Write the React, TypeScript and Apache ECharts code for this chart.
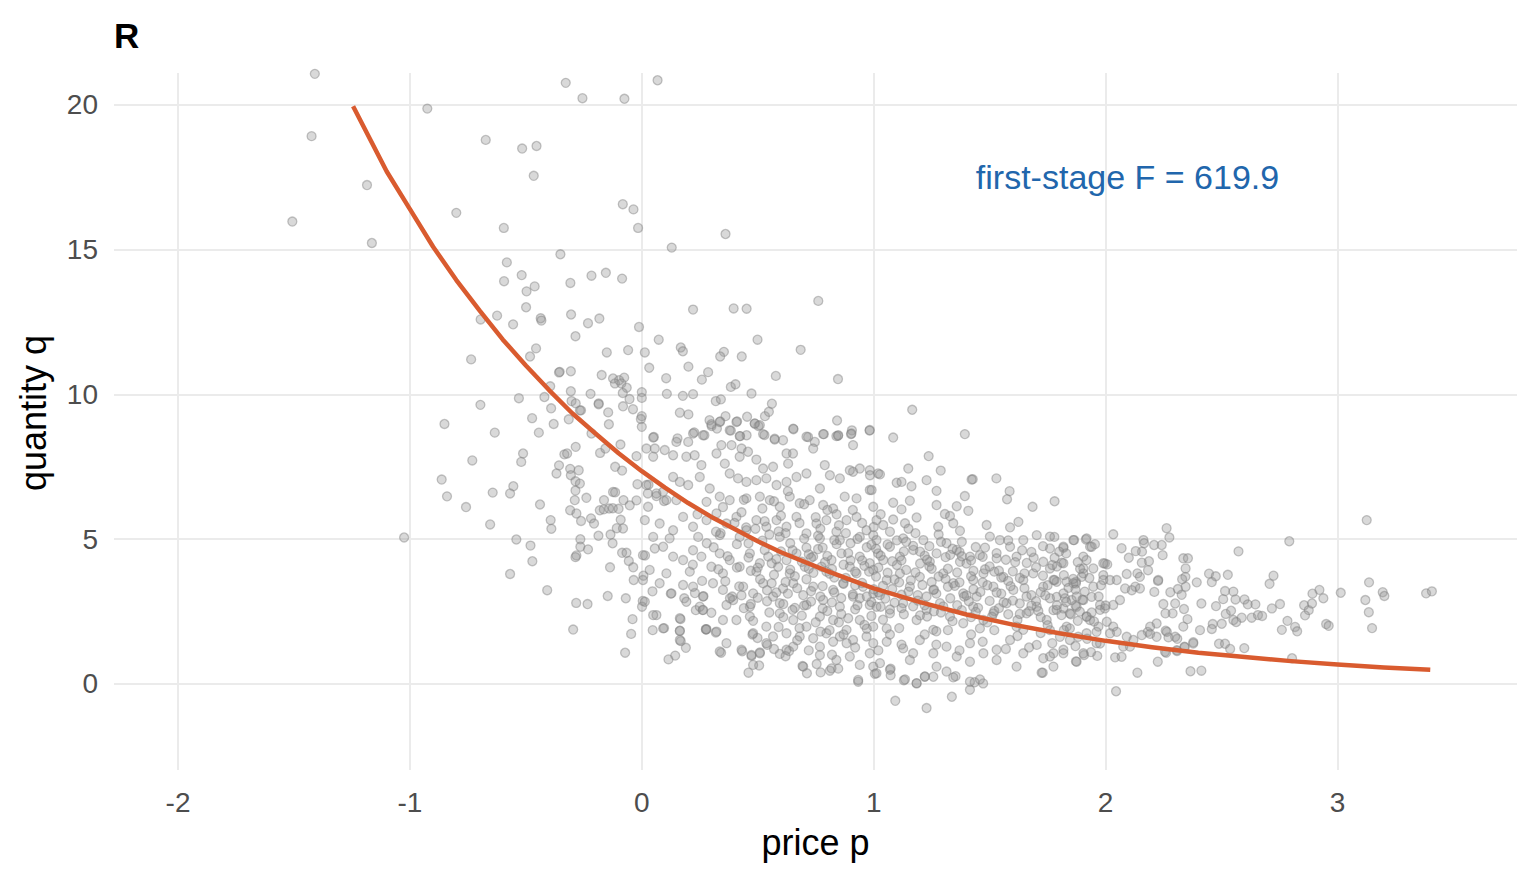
import React, { useEffect, useRef } from "react";
import * as echarts from "echarts";

type Pt = [number, number];

const xTicks = [-2, -1, 0, 1, 2, 3];
const yTicks = [0, 5, 10, 15, 20];

const titleText = "R";
const annotationText = "first-stage F = 619.9";
const xTitle = "price p";
const yTitle = "quantity q";

const pointsUpper: Pt[] = [
  [-1.41, 21.07], [-0.328, 20.76], [-0.256, 20.23], [-0.925, 19.87], [-1.424, 18.92], [-0.673, 18.79], [-0.516, 18.49], [-0.454, 18.58],
  [-0.466, 17.55], [-1.185, 17.23], [-0.8, 16.27], [-1.507, 15.97], [-0.595, 15.75], [-1.164, 15.23], [-0.351, 14.84], [-0.582, 14.56],
  [-0.518, 14.12], [-0.594, 13.91], [-0.462, 13.73], [-0.497, 13.56], [-0.308, 13.85], [-0.217, 14.1],
  [-0.075, 20.21], [0.068, 20.85], [-0.082, 16.57], [-0.036, 16.39], [-0.016, 15.75], [0.361, 15.54], [0.129, 15.07], [-0.155, 14.2],
  [-0.085, 14.0], [-0.305, 12.76], [-0.232, 12.46], [-0.183, 12.62], [-0.286, 12.01], [-0.012, 12.33], [0.221, 12.93], [0.396, 12.97],
  [0.452, 12.96], [0.761, 13.23], [0.073, 11.89], [0.499, 11.89], [0.685, 11.54], [-0.151, 11.45], [-0.059, 11.53], [0.013, 11.45],
  [0.168, 11.62], [0.177, 11.49], [0.354, 11.47], [0.338, 11.31], [0.431, 11.31], [0.032, 10.92], [0.201, 10.96], [0.286, 10.77],
  [0.259, 10.51], [0.105, 10.56], [0.578, 10.64], [0.846, 10.53], [-0.354, 10.78], [-0.306, 10.8], [-0.173, 10.67], [-0.124, 10.55],
  [-0.098, 10.49], [-0.076, 10.58], [-0.116, 10.38], [-0.088, 10.38], [-0.065, 10.23], [-0.082, 10.05], [-0.306, 10.11], [-0.221, 10.02],
  [0.0, 10.08], [0.0, 9.88], [0.108, 10.02], [0.177, 9.95], [0.221, 10.01], [0.473, 10.03], [-0.186, 9.69], [-0.081, 9.59],
  [-0.053, 9.84], [-0.038, 9.49], [0.0, 9.25], [-0.004, 9.15], [0.0, 8.88], [-0.145, 9.38], [-0.142, 8.97], [-0.262, 9.45],
  [-0.315, 9.14], [0.164, 9.37], [0.201, 9.31], [0.319, 9.77], [0.341, 9.83], [0.384, 10.26], [0.404, 10.35], [0.531, 9.25],
  [0.548, 9.4], [0.561, 9.68], [0.454, 9.23], [0.487, 9.0], [0.503, 8.91], [0.361, 9.25], [0.338, 9.07], [0.292, 9.11],
  [0.301, 8.91], [0.324, 8.82], [0.411, 9.07], [0.654, 8.8], [0.842, 9.1], [1.166, 9.47], [0.982, 8.75], [0.906, 8.76],
  [0.902, 8.63], [0.846, 8.57], [0.785, 8.63], [0.717, 8.53], [1.084, 8.51], [0.384, 8.75], [0.424, 8.56], [0.226, 8.69],
  [0.27, 8.59], [0.529, 8.6], [0.452, 8.59], [0.573, 8.47], [0.052, 8.53], [0.154, 8.48], [-0.217, 8.65],
];

const pointsLeft: Pt[] = [
  [-1.025, 5.06], [-0.851, 8.98], [-0.863, 7.06], [-0.84, 6.48], [-0.758, 6.11], [-0.731, 7.72], [-0.736, 11.21], [-0.696, 9.64],
  [-0.695, 12.59], [-0.624, 12.72], [-0.634, 8.68], [-0.654, 5.51], [-0.643, 6.61], [-0.499, 13.01], [-0.555, 12.42], [-0.436, 12.63],
  [-0.433, 12.55], [-0.456, 11.59], [-0.482, 11.31], [-0.53, 9.87], [-0.42, 9.91], [-0.391, 9.52], [-0.395, 10.28], [-0.473, 9.18],
  [-0.444, 8.68], [-0.38, 8.98], [-0.357, 10.76], [-0.303, 9.77], [-0.285, 9.69], [-0.267, 9.45], [-0.186, 9.66],
  [-0.512, 7.96], [-0.52, 7.67], [-0.554, 6.83], [-0.568, 6.58], [-0.439, 6.2], [-0.393, 5.66], [-0.39, 5.36], [-0.541, 4.99],
  [-0.48, 4.78], [-0.472, 4.24], [-0.568, 3.8], [-0.408, 3.24], [-0.283, 2.8], [-0.234, 2.76], [-0.296, 1.88], [-0.334, 7.93],
  [-0.322, 7.96], [-0.285, 8.19], [-0.357, 7.55], [-0.368, 7.27], [-0.309, 7.43], [-0.272, 7.38], [-0.306, 7.21], [-0.286, 7.0],
  [-0.267, 6.92], [-0.286, 6.68], [-0.289, 6.35], [-0.239, 6.43], [-0.309, 6.0], [-0.282, 5.89], [-0.262, 5.63], [-0.265, 5.0],
  [-0.265, 4.74], [-0.232, 4.65], [-0.282, 4.44], [-0.286, 4.38], [-0.219, 5.72], [-0.206, 5.54], [-0.181, 6.0], [-0.164, 6.03],
  [-0.141, 6.06], [-0.125, 6.07], [-0.1, 6.05], [-0.187, 5.12], [-0.135, 5.16], [-0.126, 4.86], [-0.091, 5.67], [-0.108, 5.38],
  [-0.081, 5.37], [-0.163, 6.35], [-0.124, 6.63], [-0.115, 6.62], [-0.079, 6.35], [-0.023, 6.34], [-0.052, 6.17], [-0.18, 7.98],
  [-0.157, 8.13], [-0.092, 8.27], [-0.115, 7.5], [-0.085, 7.37], [-0.023, 7.87], [-0.019, 6.9], [0.026, 6.58], [0.029, 6.88],
  [0.063, 6.49], [0.096, 6.32], [0.092, 6.64], [-0.085, 4.53], [-0.066, 4.53], [-0.056, 4.25], [-0.037, 4.03], [-0.035, 3.59],
  [-0.069, 2.96], [-0.137, 4.03], [-0.147, 3.04], [-0.04, 2.24], [-0.046, 1.73], [-0.072, 1.08], [0.004, 2.87], [0.001, 2.67],
  [0.014, 4.44], [0.007, 3.74], [0.046, 3.2], [0.063, 2.38], [0.047, 1.86], [0.096, 1.93], [0.125, 3.12], [0.115, 0.85],
  [0.144, 0.98], [0.164, 1.83], [0.168, 1.48], [0.19, 1.25], [0.167, 2.24], [0.183, 2.96], [0.229, 3.14], [0.266, 3.03],
  [0.233, 2.55], [0.263, 2.55], [0.277, 1.88], [0.319, 1.78], [0.342, 1.08], [0.433, 1.13], [0.473, 0.97], [0.509, 1.09],
  [0.46, 0.39], [0.506, 0.64], [0.541, 1.35], [0.477, 1.71], [0.499, 1.59],
];

const pointsLow: Pt[] = [
  [1.093, -0.58], [1.228, -0.83], [1.337, -0.44], [1.415, -0.2], [1.435, 0.06], [1.472, 0.02], [0.933, 0.08], [1.13, 0.13],
  [1.185, 0.02], [1.22, 0.25], [1.257, 0.25], [1.353, 0.27], [1.729, 0.39], [0.712, 0.37], [0.771, 0.4], [0.811, 0.46],
  [0.847, 0.53], [1.005, 0.35], [1.073, 0.53], [1.073, 0.3], [0.595, 1.04], [0.635, 1.14], [0.693, 0.62], [0.754, 0.69],
  [0.276, 1.89], [1.393, 8.63], [1.237, 7.87], [1.289, 7.37], [1.427, 7.07], [1.529, 7.1], [1.586, 6.66], [1.575, 6.38],
  [1.78, 6.31], [1.685, 6.12],
];

const pointsRight: Pt[] = [
  [3.126, 5.66], [2.792, 4.93], [2.573, 4.58], [2.263, 5.38], [2.275, 5.06], [2.033, 5.17], [3.014, 3.15], [3.136, 3.51],
  [3.12, 2.9], [3.135, 2.48], [3.149, 1.93], [3.195, 3.17], [3.202, 3.04], [3.382, 3.13], [3.407, 3.2], [2.922, 3.25],
  [2.892, 3.12], [2.939, 2.96], [2.856, 2.72], [2.876, 2.55], [2.86, 2.37], [2.89, 2.78], [2.951, 2.07], [2.962, 2.01],
  [2.804, 0.89], [2.724, 3.74], [2.707, 3.46], [2.752, 2.76], [2.717, 2.61], [2.784, 2.18], [2.817, 1.97], [2.826, 1.82],
  [2.76, 1.87], [2.527, 3.77], [2.446, 3.81], [2.475, 3.72], [2.458, 3.52], [2.393, 3.51], [2.413, 2.78], [2.515, 3.21],
  [2.551, 3.19], [2.56, 2.92], [2.507, 2.93], [2.599, 2.92], [2.613, 2.75], [2.646, 2.75], [2.63, 2.29], [2.587, 2.29],
  [2.551, 2.21], [2.563, 2.14], [2.657, 2.38], [2.675, 2.35], [2.518, 2.42], [2.541, 2.53], [2.501, 2.08], [2.462, 2.07],
  [2.458, 1.9], [2.476, 2.69], [2.489, 1.39], [2.515, 1.39], [2.537, 1.21], [2.598, 1.24], [2.366, 0.44], [2.413, 0.46],
  [2.378, 1.44], [2.407, 1.86], [2.045, -0.25], [2.137, 0.39], [2.225, 0.77], [2.261, 1.08], [2.308, 1.14], [2.34, 1.29],
  [2.041, 0.92], [2.069, 0.94], [1.872, 0.78], [1.907, 1.0], [1.964, 0.97], [1.937, 1.1], [2.353, 2.24], [2.338, 2.59],
  [2.289, 2.44], [2.258, 2.44], [2.3, 2.78], [2.279, 3.17], [2.312, 3.28], [2.328, 3.08], [2.345, 3.36], [2.344, 3.7],
  [2.345, 3.99], [2.335, 4.34], [2.355, 4.34], [2.33, 3.62], [2.246, 4.45], [2.242, 4.8], [2.209, 4.8], [2.227, 3.59],
  [2.21, 3.18], [2.163, 4.97], [2.166, 4.86], [2.157, 4.57], [2.187, 4.24], [2.156, 4.19], [2.13, 4.59], [2.1, 4.36],
  [2.069, 4.69], [2.091, 3.8], [2.137, 3.82], [2.148, 3.7], [2.128, 3.36], [2.113, 3.24], [2.148, 3.3], [2.183, 3.93],
  [2.226, 3.56], [2.249, 2.76], [2.22, 2.09], [2.182, 1.8], [2.192, 1.73], [2.259, 1.84], [2.271, 1.61], [2.309, 1.56],
  [2.341, 1.27], [1.864, 4.97], [1.915, 4.99], [1.933, 4.74], [1.954, 4.83], [1.818, 4.7], [1.811, 4.19], [1.779, 5.08],
  [1.76, 4.68], [1.918, 4.28], [1.904, 3.99], [1.947, 3.99], [1.997, 4.16], [2.007, 4.13], [1.99, 3.76], [1.897, 3.7],
  [1.872, 3.53], [1.872, 3.47], [1.832, 3.53], [1.789, 3.53], [1.76, 3.99], [1.789, 3.01], [1.825, 2.96], [1.854, 2.9],
  [1.904, 2.9], [1.94, 3.01], [1.976, 2.73], [1.997, 2.61], [2.033, 2.73], [2.062, 2.9], [2.084, 3.3], [2.048, 3.59],
  [2.019, 3.59], [1.775, 2.55], [1.818, 2.61], [1.846, 2.44], [1.889, 2.5], [1.918, 2.32], [1.933, 2.21], [1.969, 1.98],
  [2.005, 2.15], [2.033, 1.98], [2.048, 1.8], [2.019, 1.75], [2.091, 1.63], [2.12, 1.52], [2.156, 1.69], [2.192, 1.98],
  [2.22, 1.63], [2.264, 1.8], [2.3, 1.63], [2.335, 1.98], [2.256, 1.11], [2.307, 1.17], [2.378, 1.4], [2.076, 1.29],
  [2.105, 1.29], [1.818, 1.06], [1.775, 1.06], [1.76, 1.86], [1.803, 1.63], [1.846, 1.52], [1.882, 1.63], [1.918, 1.75],
  [1.961, 1.8], [1.976, 1.4],
];

const pointsCoreA: Pt[] = [
  [0.3, 8.97], [0.336, 9.05], [0.408, 9.05], [0.487, 8.99], [0.509, 8.94], [0.653, 8.82], [0.782, 8.63], [0.839, 8.56],
  [0.904, 8.65], [0.983, 8.77], [0.049, 8.51], [0.221, 8.65], [0.264, 8.59], [0.379, 8.76], [0.422, 8.56], [0.523, 8.63],
  [0.573, 8.44], [0.609, 8.42], [0.71, 8.54], [0.746, 8.36], [0.847, 8.59],
  [0.02, 8.13], [0.056, 8.13], [0.099, 8.08], [0.149, 8.36], [0.2, 8.36], [0.135, 7.9], [0.192, 7.85], [0.228, 7.9],
  [0.322, 7.96], [0.343, 8.25], [0.387, 8.25], [0.43, 8.13], [0.458, 8.02], [0.494, 7.75], [0.624, 7.96], [0.652, 7.96],
  [0.739, 8.13], [0.911, 8.25], [0.049, 7.85], [0.257, 7.56], [0.358, 7.61], [0.422, 7.85], [0.523, 7.44], [0.566, 7.5],
  [0.631, 7.61], [0.789, 7.56], [0.811, 7.21], [0.911, 7.33], [0.94, 7.44], [0.983, 7.38], [1.019, 7.27],
  [0.02, 6.87], [0.063, 6.58], [0.106, 6.35], [0.135, 7.15], [0.164, 6.98], [0.2, 6.87], [0.25, 7.15], [0.293, 6.75],
  [0.336, 6.47], [0.379, 7.27], [0.415, 7.1], [0.451, 6.98], [0.494, 7.04], [0.537, 7.1], [0.581, 6.87], [0.624, 6.98],
  [0.667, 7.15], [0.71, 7.27], [0.768, 6.75], [0.027, 6.12], [0.149, 6.35], [0.279, 6.29], [0.379, 6.35], [0.451, 6.41],
  [0.509, 6.47], [0.552, 6.35], [0.595, 6.12], [0.638, 6.47], [0.681, 6.24], [0.724, 6.35], [0.782, 6.18], [0.825, 6.06],
  [0.875, 6.47], [0.926, 6.41], [0.983, 6.7], [0.998, 6.12], [0.854, 7.1], [0.897, 7.38],
  [0.013, 5.66], [0.077, 5.54], [0.135, 5.31], [0.178, 5.77], [0.221, 5.43], [0.279, 5.66], [0.322, 5.89], [0.365, 5.54],
  [0.408, 5.77], [0.451, 5.31], [0.494, 5.66], [0.537, 5.43], [0.581, 5.66], [0.624, 5.43], [0.667, 5.77], [0.71, 5.2],
  [0.753, 5.54], [0.796, 5.66], [0.839, 5.26], [0.883, 5.66], [0.926, 5.77], [0.969, 5.31], [1.012, 5.66], [0.049, 5.08],
  [0.12, 5.03], [0.243, 5.08], [0.336, 5.14], [0.422, 5.08], [0.595, 5.08], [0.768, 5.03], [0.854, 4.97], [0.94, 5.08],
  [0.998, 5.14],
  [0.005, 4.45], [0.056, 4.68], [0.092, 4.74], [0.135, 4.4], [0.178, 4.28], [0.221, 4.62], [0.257, 4.4], [0.3, 4.05],
  [0.336, 4.51], [0.379, 4.28], [0.422, 4.05], [0.466, 4.51], [0.509, 4.17], [0.545, 4.4], [0.588, 4.05], [0.624, 4.28],
  [0.667, 4.51], [0.703, 4.05], [0.739, 4.4], [0.775, 4.05], [0.818, 4.28], [0.861, 4.51], [0.897, 4.05], [0.94, 4.4],
  [0.983, 4.17], [1.019, 4.51], [0.034, 3.94], [0.106, 3.82], [0.207, 3.88], [0.35, 3.82], [0.494, 3.88], [0.638, 3.82],
  [0.796, 3.88], [0.926, 3.82],
  [0.005, 3.59], [0.077, 3.48], [0.128, 3.13], [0.178, 3.42], [0.221, 3.36], [0.264, 3.02], [0.307, 3.48], [0.35, 3.25],
  [0.394, 2.9], [0.437, 3.36], [0.48, 3.13], [0.523, 3.48], [0.566, 3.02], [0.609, 3.3], [0.653, 3.48], [0.696, 3.07],
  [0.739, 3.36], [0.782, 2.9], [0.825, 3.25], [0.868, 3.48], [0.911, 3.02], [0.954, 3.36], [0.998, 3.13], [0.013, 2.84],
  [0.192, 2.84], [0.25, 2.67], [0.365, 2.73], [0.466, 2.67], [0.595, 2.79], [0.71, 2.73], [0.854, 2.67], [0.983, 2.73],
  [0.049, 2.38], [0.164, 2.27], [0.264, 2.56], [0.35, 2.21], [0.408, 2.21], [0.466, 2.33], [0.537, 1.98], [0.595, 2.44],
  [0.653, 2.21], [0.71, 1.98], [0.768, 2.33], [0.825, 2.21], [0.883, 1.87], [0.94, 2.21], [0.998, 1.98], [0.092, 1.92],
  [0.164, 1.84], [0.279, 1.89], [0.322, 1.81], [0.48, 1.75], [0.566, 1.64], [0.624, 1.75], [0.681, 1.64], [0.739, 1.58],
  [0.796, 1.75], [0.854, 1.64], [0.911, 1.52], [0.969, 1.64], [0.164, 1.52], [0.365, 1.41], [0.537, 1.41], [0.653, 1.29],
  [0.768, 1.29], [0.825, 1.46], [0.883, 1.41],
  [0.336, 1.12], [0.43, 1.18], [0.473, 1.0], [0.509, 1.06], [0.624, 1.18], [0.696, 0.6], [0.768, 1.0], [0.839, 0.83],
  [0.897, 0.95], [0.94, 0.66], [0.998, 0.6], [0.48, 0.66], [0.818, 0.54], [0.933, 0.14], [0.983, 1.06],
];

const pointsCoreB: Pt[] = [
  [1.149, 7.44], [1.027, 7.24], [1.099, 6.95], [1.12, 6.98], [1.163, 6.83], [1.228, 7.04], [1.422, 7.06], [1.271, 6.67],
  [1.393, 6.49], [1.156, 6.33], [1.084, 6.26], [1.12, 6.03], [1.271, 6.18], [1.358, 6.14], [1.408, 5.98], [1.307, 5.87],
  [1.329, 5.8], [1.185, 5.75], [1.084, 5.68], [1.041, 5.49], [1.135, 5.55], [1.278, 5.43], [1.343, 5.55], [1.372, 5.29],
  [1.487, 5.49], [1.588, 5.41], [1.624, 5.6], [0.984, 7.21], [0.991, 6.7],
  [1.012, 4.97], [1.07, 4.74], [1.127, 5.03], [1.171, 4.63], [1.214, 4.97], [1.271, 4.51], [1.314, 4.86], [1.358, 4.63],
  [1.415, 4.4], [1.458, 4.45], [1.501, 5.09], [1.544, 4.97], [1.588, 4.74], [1.645, 4.97], [1.703, 5.14], [1.76, 5.09],
  [1.818, 4.74], [1.861, 4.97], [1.918, 5.03], [1.94, 4.74], [1.99, 4.17], [1.041, 4.28], [1.113, 4.4], [1.242, 4.22],
  [1.372, 4.22], [1.53, 4.34], [1.616, 4.4], [1.731, 4.22], [1.818, 4.17], [1.904, 4.4],
  [0.998, 3.94], [1.056, 3.59], [1.113, 3.82], [1.156, 3.36], [1.199, 3.7], [1.257, 3.25], [1.3, 3.82], [1.343, 3.48],
  [1.386, 3.13], [1.429, 3.59], [1.473, 3.82], [1.516, 3.36], [1.559, 3.7], [1.602, 3.25], [1.645, 3.59], [1.688, 3.82],
  [1.731, 3.36], [1.775, 3.59], [1.818, 3.13], [1.861, 3.48], [1.904, 3.82], [1.947, 3.36], [1.99, 3.59], [1.027, 3.07],
  [1.228, 3.02], [1.444, 3.02], [1.659, 3.02], [1.875, 3.02],
  [1.012, 2.67], [1.07, 2.44], [1.127, 2.79], [1.185, 2.21], [1.228, 2.56], [1.286, 2.79], [1.329, 2.33], [1.386, 2.1],
  [1.429, 2.67], [1.473, 2.21], [1.516, 2.44], [1.573, 2.79], [1.616, 1.98], [1.659, 2.44], [1.703, 2.67], [1.746, 2.21],
  [1.789, 2.56], [1.832, 1.98], [1.875, 2.67], [1.918, 2.33], [1.976, 2.56], [1.056, 1.92], [1.257, 1.87], [1.458, 1.92],
  [1.645, 1.87], [1.846, 1.92],
  [0.998, 1.41], [1.056, 1.46], [1.127, 1.23], [1.199, 1.52], [1.257, 1.06], [1.314, 1.29], [1.358, 0.95], [1.415, 1.41],
  [1.473, 1.06], [1.53, 1.18], [1.588, 1.52], [1.645, 1.06], [1.703, 1.35], [1.76, 0.95], [1.818, 1.18], [1.904, 1.06],
  [1.961, 1.41], [1.027, 0.72], [1.156, 0.83], [1.271, 0.6], [1.415, 0.77], [1.53, 0.83], [1.616, 0.6], [1.731, 0.89],
  [1.775, 0.6], [1.875, 0.77], [1.012, 0.37], [1.07, 0.49], [1.135, 0.16], [1.221, 0.26], [1.314, 0.43], [1.343, 0.23],
  [1.415, 0.08], [1.458, 0.16], [1.724, 0.39], [1.185, 0.03],
];

const pointsCoreFill: Pt[] = [
  [0.31, 4.72], [0.36, 3.55], [0.41, 4.83], [0.44, 2.62], [0.47, 3.91], [0.52, 4.95], [0.55, 2.47], [0.57, 3.77],
  [0.6, 4.58], [0.63, 3.12], [0.66, 2.63], [0.69, 4.22], [0.71, 3.62], [0.73, 2.85], [0.76, 4.66], [0.78, 3.38],
  [0.8, 2.52], [0.82, 3.97], [0.84, 4.83], [0.86, 2.97], [0.88, 3.66], [0.9, 4.27], [0.92, 2.58], [0.95, 3.49],
  [0.97, 4.72], [0.99, 2.83], [1.01, 3.71], [1.03, 4.43], [1.05, 2.95], [1.08, 3.28], [1.1, 4.11], [1.12, 2.62],
  [1.14, 3.94], [1.17, 4.77], [1.19, 2.88], [1.21, 3.42], [1.24, 4.06], [1.26, 2.51], [1.28, 3.71], [1.31, 4.38],
  [1.33, 2.96], [1.36, 3.85], [1.38, 2.55], [1.4, 4.16], [1.43, 3.27], [1.45, 2.63], [1.48, 3.96], [1.5, 2.87],
  [1.53, 4.52], [1.55, 3.12], [1.58, 2.41], [1.6, 3.89], [1.63, 2.78], [1.66, 4.18], [1.68, 3.07], [1.71, 2.52],
  [1.73, 3.74], [1.76, 2.96], [1.79, 4.06], [1.81, 2.38], [1.84, 3.32], [1.87, 2.71], [1.89, 3.98],
  [0.34, 5.21], [0.39, 3.02], [0.43, 5.93], [0.46, 4.37], [0.5, 2.98], [0.53, 5.62], [0.56, 4.17], [0.59, 1.97],
  [0.62, 5.21], [0.65, 4.62], [0.68, 1.93], [0.7, 5.02], [0.72, 3.98], [0.75, 2.13], [0.77, 5.36], [0.79, 4.21],
  [0.81, 1.86], [0.83, 3.16], [0.85, 5.48], [0.87, 4.12], [0.89, 2.27], [0.91, 3.09], [0.93, 5.01], [0.96, 2.04],
  [0.98, 3.88], [1.0, 5.42], [1.02, 3.17], [1.04, 2.22], [1.06, 4.82], [1.09, 3.61], [1.11, 1.93], [1.13, 4.58],
  [1.15, 3.19], [1.18, 5.21], [1.2, 2.37], [1.22, 4.43], [1.25, 3.52], [1.27, 1.82], [1.29, 4.91], [1.32, 3.36],
  [1.34, 2.17], [1.37, 4.56], [1.39, 3.02], [1.42, 2.31], [1.44, 4.73], [1.47, 3.51], [1.49, 2.13], [1.52, 3.88],
  [1.54, 2.62], [1.57, 4.29], [1.59, 3.38], [1.62, 2.21], [1.64, 4.62], [1.67, 2.51], [1.7, 4.03], [1.72, 3.17],
  [1.75, 2.03], [1.78, 3.59], [1.8, 4.57], [1.83, 2.83], [1.86, 3.63], [1.88, 2.18], [1.91, 3.19], [1.94, 2.47],
  [1.97, 3.02], [2.0, 2.71],
  [0.51, 3.62], [0.54, 3.24], [0.58, 4.31], [0.61, 2.76], [0.64, 3.95], [0.67, 3.31], [0.7, 2.71], [0.74, 3.84],
  [0.77, 3.02], [0.8, 4.42], [0.83, 3.68], [0.86, 2.42], [0.89, 4.52], [0.92, 3.41], [0.94, 2.96], [0.96, 4.08],
  [1.0, 3.27], [1.03, 2.67], [1.06, 3.84], [1.09, 2.81], [1.12, 4.27], [1.16, 3.58], [1.19, 3.07], [1.23, 4.29],
  [1.27, 3.12], [1.3, 2.68], [1.35, 3.39], [1.38, 4.41], [1.41, 2.86], [1.46, 3.18], [1.5, 4.06], [1.55, 3.68],
  [1.6, 2.88], [1.65, 3.31], [1.7, 2.86], [1.75, 3.41], [0.62, 3.52], [0.72, 4.48], [0.82, 2.82], [0.92, 3.88],
  [1.02, 4.02], [1.12, 3.08], [1.22, 2.72], [1.32, 3.98], [1.42, 3.72], [1.52, 2.52],
];

const pointsCoreFill2: Pt[] = [
  [0.42, 3.37], [0.45, 5.41], [0.48, 2.18], [0.53, 4.63], [0.56, 3.48], [0.59, 5.27], [0.61, 2.31], [0.64, 4.86],
  [0.66, 3.72], [0.69, 2.36], [0.71, 4.71], [0.73, 3.21], [0.76, 5.12], [0.78, 2.61], [0.81, 3.81], [0.83, 4.97],
  [0.85, 2.13], [0.87, 3.46], [0.9, 4.86], [0.93, 2.72], [0.95, 4.27], [0.97, 3.02], [0.99, 2.35], [1.01, 4.67],
  [1.04, 3.39], [1.07, 2.57], [1.08, 4.24], [1.11, 3.51], [1.13, 2.41], [1.14, 4.91], [1.17, 2.68], [1.18, 3.85],
  [1.2, 4.57], [1.23, 2.33], [1.25, 3.98], [1.26, 3.26], [1.29, 2.47], [1.31, 3.63], [1.34, 4.67], [1.36, 2.72],
  [1.37, 3.51], [1.4, 3.06], [1.42, 4.27], [1.44, 2.49], [1.47, 4.39], [1.49, 3.41], [1.51, 2.32], [1.54, 3.91],
  [1.56, 2.82], [1.58, 3.56], [1.61, 4.21], [1.63, 2.42], [1.65, 3.82], [1.68, 2.71], [1.69, 4.36], [1.72, 2.31],
  [1.74, 3.06], [1.77, 4.11], [1.79, 2.72], [1.82, 3.76], [1.85, 2.41], [1.87, 3.26], [1.9, 2.91], [1.93, 3.66],
  [1.95, 2.16], [1.98, 3.41],
  [0.22, 4.12], [0.24, 5.86], [0.26, 3.56], [0.28, 4.86], [0.3, 2.46], [0.32, 5.26], [0.33, 3.96], [0.35, 6.11],
  [0.37, 4.41], [0.38, 2.96], [0.4, 5.56], [0.41, 4.02], [0.43, 3.06], [0.44, 6.36], [0.46, 4.86], [0.47, 2.76],
  [0.49, 5.36], [0.5, 4.02], [0.52, 6.06], [0.54, 2.86], [0.55, 5.16], [0.57, 6.31], [0.58, 3.16], [0.6, 5.81],
  [0.63, 6.66], [0.65, 2.56], [0.68, 5.56], [0.7, 6.21], [0.73, 4.36], [0.75, 5.76], [0.78, 4.71], [0.8, 6.01],
  [0.84, 5.86], [0.88, 5.21], [0.91, 6.01], [0.95, 5.56], [0.99, 4.81], [1.03, 5.86], [1.07, 5.26], [1.1, 4.96],
  [1.15, 5.36], [1.2, 4.16], [1.24, 4.76], [1.28, 5.16], [1.33, 4.46], [1.38, 4.91], [1.43, 3.91], [1.48, 4.71],
  [1.53, 3.16], [1.58, 4.96], [1.63, 3.66], [1.68, 4.56], [1.73, 4.76], [1.78, 4.36], [1.83, 4.51], [1.88, 4.21],
  [0.57, 1.21], [0.62, 0.96], [0.67, 1.51], [0.72, 1.16], [0.77, 1.81], [0.82, 1.01], [0.87, 1.71], [0.92, 1.26],
  [0.97, 1.91], [1.02, 1.16], [1.07, 1.71], [1.12, 1.36], [1.17, 1.06], [1.22, 1.71], [1.27, 1.36], [1.32, 1.86],
  [1.37, 1.16], [1.42, 1.71], [1.47, 1.46], [1.52, 1.86], [1.57, 1.21], [1.62, 1.66], [1.67, 1.26], [1.72, 1.76],
  [1.77, 1.41], [1.82, 1.86], [1.87, 1.31], [1.92, 1.56],
];

const fitPrice = [
  -1.245, -1.1, -1.0, -0.9, -0.8, -0.7, -0.6, -0.5, -0.4, -0.3, -0.2, -0.1, 0, 0.1, 0.2, 0.3, 0.4, 0.5, 0.6, 0.8, 1.0, 1.2,
  1.4, 1.6, 1.8, 2.0, 2.2, 2.4, 2.6, 2.8, 3.0, 3.2, 3.4,
];
const fitQuantity = [
  19.95, 17.7, 16.4, 15.1, 13.95, 12.9, 11.9, 11.0, 10.15, 9.35, 8.65, 7.97, 7.35, 6.78, 6.25, 5.77, 5.35, 4.93, 4.55, 3.9,
  3.3, 2.83, 2.4, 2.05, 1.75, 1.49, 1.27, 1.08, 0.93, 0.79, 0.67, 0.57, 0.49,
];

const FONT = "'Liberation Sans', Arial, Helvetica, sans-serif";

export default function App() {
  const ref = useRef<HTMLDivElement>(null);

  useEffect(() => {
    if (!ref.current) return;
    const chart = echarts.init(ref.current, null, { renderer: "svg" });
    const scatterData = [
      ...pointsUpper,
      ...pointsLeft,
      ...pointsLow,
      ...pointsRight,
      ...pointsCoreA,
      ...pointsCoreB,
      ...pointsCoreFill,
      ...pointsCoreFill2,
    ];
    const fitData = fitPrice.map((p, i) => [p, fitQuantity[i]]);

    chart.setOption({
      animation: false,
      backgroundColor: "#ffffff",
      textStyle: { fontFamily: FONT },
      grid: { left: 114, right: 19, top: 73, bottom: 113, containLabel: false },
      xAxis: {
        type: "value",
        min: -2.276,
        max: 3.774,
        axisLine: { show: false },
        axisTick: { show: false, customValues: xTicks },
        axisLabel: { customValues: xTicks, fontSize: 28, color: "#4D4D4D", margin: 18, fontFamily: FONT },
        splitLine: { show: true, lineStyle: { color: "#EBEBEB", width: 2 } },
      },
      yAxis: {
        type: "value",
        min: -2.97,
        max: 21.1,
        axisLine: { show: false },
        axisTick: { show: false, customValues: yTicks },
        axisLabel: { customValues: yTicks, fontSize: 28, color: "#4D4D4D", margin: 16, fontFamily: FONT },
        splitLine: { show: true, lineStyle: { color: "#EBEBEB", width: 2 } },
      },
      series: [
        {
          type: "scatter",
          data: scatterData,
          symbolSize: 9,
          silent: true,
          itemStyle: {
            color: "rgba(150,150,150,0.45)",
            borderColor: "rgba(125,125,125,0.55)",
            borderWidth: 1.3,
          },
          z: 2,
        },
        {
          type: "line",
          data: fitData,
          symbol: "none",
          showSymbol: false,
          smooth: false,
          silent: true,
          lineStyle: { color: "#D95B2F", width: 4.5, join: "round" },
          z: 3,
        },
      ],
      graphic: [
        {
          type: "text",
          x: 114,
          y: 35,
          style: { text: titleText, font: `bold 35px ${FONT}`, fill: "#000000", align: "left", verticalAlign: "middle" },
        },
        {
          type: "text",
          x: 1127.5,
          y: 177,
          style: { text: annotationText, font: `34px ${FONT}`, fill: "#2166AC", align: "center", verticalAlign: "middle" },
        },
        {
          type: "text",
          x: 815.5,
          y: 842,
          style: { text: xTitle, font: `36px ${FONT}`, fill: "#000000", align: "center", verticalAlign: "middle" },
        },
        {
          type: "text",
          x: 33,
          y: 413,
          rotation: Math.PI / 2,
          style: { text: yTitle, font: `36px ${FONT}`, fill: "#000000", align: "center", verticalAlign: "middle" },
        },
      ],
    });

    return () => chart.dispose();
  }, []);

  return (
    <div
      ref={ref}
      style={{ position: "fixed", left: 0, top: 0, width: 1536, height: 883, background: "#fff" }}
    />
  );
}
